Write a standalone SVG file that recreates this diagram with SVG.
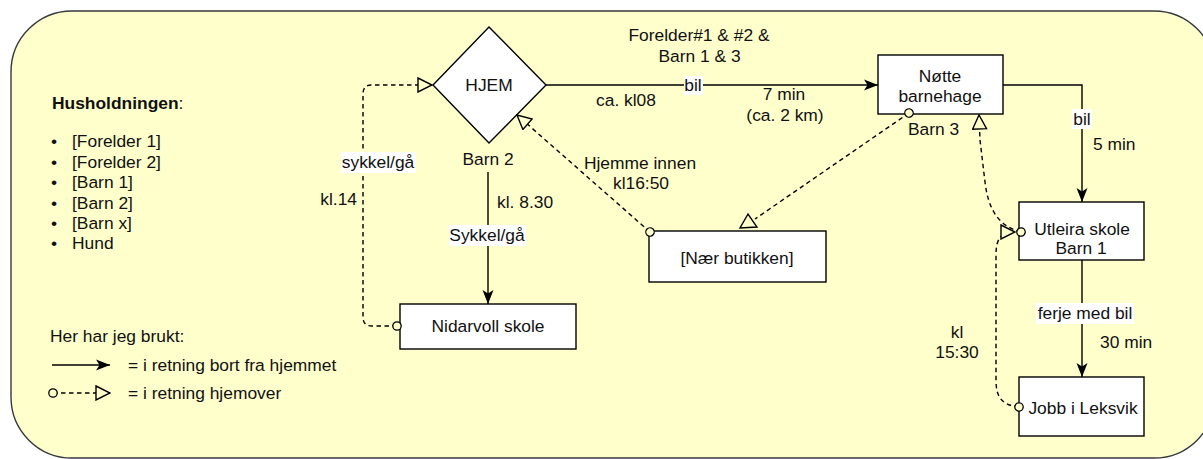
<svg xmlns="http://www.w3.org/2000/svg" width="1203" height="459" viewBox="0 0 1203 459">
  <style>
    text { font-family: "Liberation Sans", Arial, Helvetica, sans-serif; font-size: 17.4px; fill: #111; }
    .c { text-anchor: middle; }
    .e { text-anchor: end; }
    .b { font-weight: bold; }
    .box { fill: #fff; stroke: #000; stroke-width: 1.4; }
    .solid { fill: none; stroke: #000; stroke-width: 1.4; marker-end: url(#arrow); }
    .dash { fill: none; stroke: #000; stroke-width: 1.4; stroke-dasharray: 4.5 3.5; }
    .home { marker-start: url(#dot); marker-end: url(#tri); }
    .lbl { fill: #fff; }
    .tri { fill: #FFFFCC; stroke: #000; stroke-width: 1.4; stroke-linejoin: miter; }
  </style>
  <defs>
    <!-- filled arrowhead: direction away from home -->
    <marker id="arrow" markerUnits="userSpaceOnUse" viewBox="0 0 14 12" markerWidth="14" markerHeight="12" refX="14" refY="6" orient="auto">
      <path d="M0,0.5 L14,6 L0,11.5 L3.5,6 Z" fill="#000"/>
    </marker>
    <!-- open triangle: end of a homeward trip -->
    <marker id="tri" markerUnits="userSpaceOnUse" viewBox="0 0 16 16" markerWidth="16" markerHeight="16" refX="15" refY="8" orient="auto">
      <path d="M1,1 L15,8 L1,15 Z" fill="#FFFFCC" stroke="#000" stroke-width="1.4" stroke-dasharray="none"/>
    </marker>
    <!-- small circle: start of a homeward trip -->
    <marker id="dot" markerUnits="userSpaceOnUse" viewBox="0 0 11 11" markerWidth="11" markerHeight="11" refX="5.5" refY="5.5" orient="auto">
      <circle cx="5.5" cy="5.5" r="4.2" fill="#FFFFCC" stroke="#000" stroke-width="1.3" stroke-dasharray="none"/>
    </marker>
  </defs>

  <!-- household container -->
  <rect id="container" x="11" y="11" width="1204" height="447" rx="61" ry="61" fill="#FFFFCC" stroke="#36393d" stroke-width="1.4"/>

  <!-- legend -->
  <g id="legend">
    <text x="52" y="109"><tspan class="b">Husholdningen</tspan>:</text>
    <text x="51" y="147">•</text><text x="72" y="147">[Forelder 1]</text>
    <text x="51" y="168">•</text><text x="72" y="168">[Forelder 2]</text>
    <text x="51" y="188">•</text><text x="72" y="188">[Barn 1]</text>
    <text x="51" y="209">•</text><text x="72" y="209">[Barn 2]</text>
    <text x="51" y="229">•</text><text x="72" y="229">[Barn x]</text>
    <text x="51" y="249">•</text><text x="72" y="249">Hund</text>
    <text x="50" y="342">Her har jeg brukt:</text>
    <path class="solid" d="M 52 365 L 110 365"/>
    <text x="128" y="371">= i retning bort fra hjemmet</text>
    <path class="dash home" d="M 53 393 L 110 393"/>
    <text x="128" y="399">= i retning hjemover</text>
  </g>

  <!-- nodes -->
  <g id="hjem">
    <polygon class="box" points="433,85 489,27 546,85 489,143"/>
    <text class="c" x="489" y="91">HJEM</text>
  </g>
  <g id="notte-barnehage">
    <rect class="box" x="878" y="55" width="125" height="59"/>
    <text class="c" x="940" y="82">Nøtte</text>
    <text class="c" x="940" y="102">barnehage</text>
  </g>
  <g id="utleira-skole">
    <rect class="box" x="1019" y="202" width="125" height="58"/>
    <text class="c" x="1082" y="235">Utleira skole</text>
    <text class="c" x="1081" y="254">Barn 1</text>
  </g>
  <g id="jobb-leksvik">
    <rect class="box" x="1019" y="377" width="125" height="59"/>
    <text class="c" x="1083" y="414">Jobb i Leksvik</text>
  </g>
  <g id="naer-butikken">
    <rect class="box" x="649" y="231" width="177" height="51"/>
    <text class="c" x="737" y="264">[Nær butikken]</text>
  </g>
  <g id="nidarvoll-skole">
    <rect class="box" x="400" y="304" width="176" height="45"/>
    <text class="c" x="488" y="332">Nidarvoll skole</text>
  </g>

  <!-- connectors -->
  <g id="connectors">
    <!-- HJEM to barnehage -->
    <path class="solid" d="M 546 85 L 878 85"/>
    <rect class="lbl" x="684" y="76" width="19" height="19"/>
    <text class="c" x="693" y="91">bil</text>
    <text class="c" x="699" y="41">Forelder#1 &amp; #2 &amp;</text>
    <text class="c" x="699.5" y="62">Barn 1 &amp; 3</text>
    <text class="c" x="626" y="106">ca. kl08</text>
    <text class="c" x="784" y="100">7 min</text>
    <text class="c" x="785" y="121">(ca. 2 km)</text>

    <!-- barnehage to Utleira -->
    <path class="solid" d="M 1003 85 L 1082 85 L 1082 202"/>
    <rect class="lbl" x="1072" y="109" width="20" height="20"/>
    <text class="c" x="1082" y="125">bil</text>
    <text x="1093" y="150">5 min</text>

    <!-- Utleira to Leksvik -->
    <path class="solid" d="M 1082 260 L 1082 377"/>
    <rect class="lbl" x="1036" y="303" width="98" height="21"/>
    <text class="c" x="1085" y="319">ferje med bil</text>
    <text x="1100" y="348">30 min</text>

    <!-- HJEM to Nidarvoll -->
    <path class="solid" d="M 488 172 L 488 304"/>
    <text class="c" x="488" y="165">Barn 2</text>
    <text x="497" y="208">kl. 8.30</text>
    <rect class="lbl" x="449" y="225" width="77" height="21"/>
    <text class="c" x="487" y="241">Sykkel/gå</text>

    <!-- Nidarvoll back home -->
    <path class="dash home" d="M 397 326 L 372 326 Q 363 326 363 317 L 363 94 Q 363 85 372 85 L 432 85"/>
    <rect class="lbl" x="341" y="152" width="75" height="21"/>
    <text class="c" x="378" y="168">sykkel/gå</text>
    <text class="e" x="357" y="205">kl.14</text>

    <!-- shop back home -->
    <path class="dash home" d="M 650 232 L 517 115"/>
    <text class="c" x="640" y="169">Hjemme innen</text>
    <text class="c" x="641" y="189">kl16:50</text>

    <!-- barnehage to shop -->
    <path class="dash" marker-start="url(#dot)" d="M 909 113 L 755 219"/>
    <polygon class="tri" points="748,214 740,228 757,227"/>
    <text x="908" y="135">Barn 3</text>

    <!-- Leksvik to Utleira -->
    <path class="dash home" d="M 1019 407 C 1000 405 996 395 996 380 L 996 255 C 996 240 1000 232 1015 232"/>
    <text class="c" x="957" y="338">kl</text>
    <text class="c" x="957" y="358">15:30</text>

    <!-- Utleira to barnehage -->
    <path class="dash home" d="M 1021 232 C 997 226 988 207 985 182 L 980 140 L 979 115"/>
  </g>
</svg>
